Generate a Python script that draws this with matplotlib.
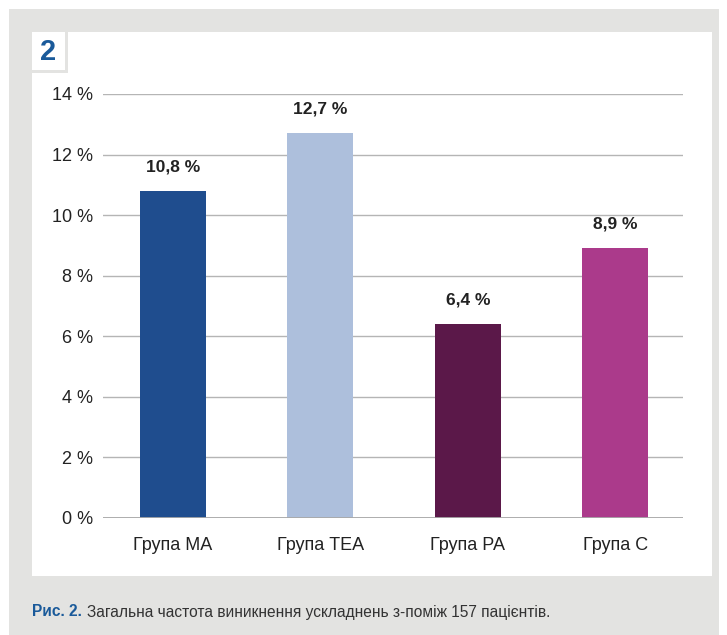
import matplotlib.pyplot as plt
from matplotlib.patches import Rectangle

groups = ["Група МА", "Група ТЕА", "Група РА", "Група С"]
values = [10.8, 12.7, 6.4, 8.9]
value_labels = ["10,8 %", "12,7 %", "6,4 %", "8,9 %"]
colors = ["#1f4d8e", "#adbfdc", "#5b1849", "#ab3a8b"]
yticks = [0, 2, 4, 6, 8, 10, 12, 14]

plt.rcParams['font.family'] = ["Liberation Sans", "DejaVu Sans"]

W, H = 727, 635
fig = plt.figure(figsize=(W / 100, H / 100), dpi=100)
fig.patch.set_facecolor("white")

def px(x, y, w, h):
    # pixel box (top-left origin) to figure fraction
    return (x / W, 1 - (y + h) / H, w / W, h / H)

def box(x, y, w, h, color):
    x0, y0, ww, hh = px(x, y, w, h)
    fig.patches.append(Rectangle((x0, y0), ww, hh, transform=fig.transFigure,
                                 facecolor=color, edgecolor="none", zorder=-5))

box(9, 9, 710, 626, "#e3e3e1")
box(32, 32, 680, 544, "white")
# little separator around the "2" tab
box(65, 32, 3, 40, "#e3e3e1")
box(32, 70, 36, 3, "#e3e3e1")

fig.text(48 / W, 1 - 52 / H, "2", color="#1a5a9a", fontsize=21, fontweight="bold",
         ha="center", va="center")

ax = fig.add_axes([103 / W, 1 - 518 / H, 580 / W, 424 / H])
ax.set_zorder(2)
ax.set_facecolor("none")
x = range(len(groups))
ax.bar(x, values, width=0.448, color=colors, zorder=3)
for i, v in enumerate(values):
    ax.text(i, v + 0.55, value_labels[i], ha="center", va="bottom",
            fontsize=12.5, fontweight="bold", color="#222222")

ax.set_xlim(-0.476, 3.461)
ax.set_ylim(0, 14)
ax.set_yticks(yticks)
ax.set_yticklabels([f"{t} %" for t in yticks])
ax.set_xticks(list(x))
ax.set_xticklabels(groups)
ax.tick_params(axis="both", length=0, labelsize=13, colors="#222222")
ax.tick_params(axis="y", pad=7)
ax.tick_params(axis="x", pad=14)
ax.yaxis.grid(True, color="#b5b5b5", linewidth=1, zorder=0)
ax.set_axisbelow(True)
for s in ax.spines.values():
    s.set_visible(False)
ax.axhline(0, color="#a8a8a8", linewidth=1.3, zorder=4)

fig.text(32 / W, 1 - 612 / H, "Рис. 2.", color="#1a5a9a", fontsize=11.2,
         fontweight="bold", ha="left", va="center")
fig.text(87 / W, 1 - 612 / H,
         "Загальна частота виникнення ускладнень з-поміж 157 пацієнтів.",
         color="#333333", fontsize=11.2, ha="left", va="center")

fig.savefig("out.png", dpi=100, facecolor=fig.get_facecolor())
